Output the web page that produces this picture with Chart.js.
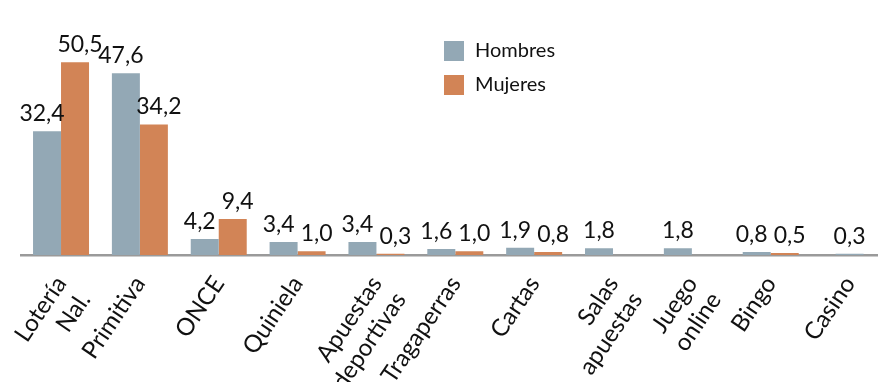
<!DOCTYPE html>
<html>
<head>
<meta charset="utf-8">
<script src="https://cdn.jsdelivr.net/npm/chart.js@4.4.1/dist/chart.umd.min.js"></script>
<style>
  html, body { margin: 0; padding: 0; background: #ffffff; overflow: hidden; }
  #wrap { position: relative; width: 889px; height: 382px; }
</style>
</head>
<body>
<div id="wrap"><canvas id="chart" width="889" height="382"></canvas></div>
<script>
// Porcentaje de jugadores por tipo de juego, por sexo
const categories = [
  ['Lotería', 'Nal.'], 'Primitiva', 'ONCE', 'Quiniela', ['Apuestas', 'deportivas'],
  'Tragaperras', 'Cartas', ['Salas', 'apuestas'], ['Juego', 'online'], 'Bingo', 'Casino'
];
const hombres = [32.4, 47.6, 4.2, 3.4, 3.4, 1.6, 1.9, 1.8, 1.8, 0.8, 0.3];
const mujeres = [50.5, 34.2, 9.4, 1.0, 0.3, 1.0, 0.8, 0, 0, 0.5, null];
const seriesNames = ['Hombres', 'Mujeres'];
const seriesColors = ['#93a8b5', '#d28456'];

const FONT = 'Lato, "Open Sans", sans-serif';
const TEXT = '#111111';

const fmt = v => v.toFixed(1).replace('.', ',');

// Value printed above each bar; paired labels are pushed apart slightly
const valueLabels = {
  id: 'valueLabels',
  afterDatasetsDraw(chart) {
    const ctx = chart.ctx;
    ctx.save();
    ctx.font = '23px ' + FONT;
    ctx.fillStyle = TEXT;
    ctx.textAlign = 'center';
    ctx.textBaseline = 'bottom';
    chart.data.datasets.forEach((ds, di) => {
      const meta = chart.getDatasetMeta(di);
      meta.data.forEach((bar, i) => {
        const v = ds.data[i];
        if (v == null || v <= 0) return;
        const other = chart.data.datasets[1 - di].data[i];
        const paired = other != null && other > 0;
        const nudge = paired ? (di === 0 ? -5 : 5) : 0;
        ctx.fillText(fmt(v), bar.x + nudge, bar.y - 6);
      });
    });
    ctx.restore();
  }
};

// Stacked legend inside the plot
const boxLegend = {
  id: 'boxLegend',
  afterDraw(chart) {
    const ctx = chart.ctx;
    ctx.save();
    ctx.font = '20px ' + FONT;
    ctx.textAlign = 'left';
    ctx.textBaseline = 'middle';
    chart.data.datasets.forEach((ds, di) => {
      const x = 444, y = 41 + di * 34;
      ctx.fillStyle = ds.backgroundColor;
      ctx.fillRect(x, y, 20, 20);
      ctx.fillStyle = TEXT;
      ctx.fillText(ds.label, x + 31, y + 10);
    });
    ctx.restore();
  }
};

new Chart(document.getElementById('chart'), {
  type: 'bar',
  data: {
    labels: categories,
    datasets: [
      { label: seriesNames[0], data: hombres, backgroundColor: seriesColors[0] },
      { label: seriesNames[1], data: mujeres, backgroundColor: seriesColors[1] }
    ]
  },
  options: {
    responsive: false,
    animation: false,
    events: [],
    skipNull: true,
    maxBarThickness: 28,
    categoryPercentage: 0.71,
    barPercentage: 1,
    layout: { padding: { left: 21.6, right: 0, top: 26, bottom: 0 } },
    plugins: {
      legend: { display: false },
      tooltip: { enabled: false }
    },
    scales: {
      x: {
        grid: { display: false },
        border: { display: true, color: '#9a9a9a', width: 2.5 },
        ticks: {
          autoSkip: false,
          minRotation: 56,
          maxRotation: 56,
          padding: 8,
          color: TEXT,
          font: { family: FONT, size: 24 }
        },
        afterFit(scale) { scale.height = 127; }
      },
      y: {
        display: false,
        min: 0,
        max: 60
      }
    }
  },
  plugins: [valueLabels, boxLegend]
});
</script>
</body>
</html>
